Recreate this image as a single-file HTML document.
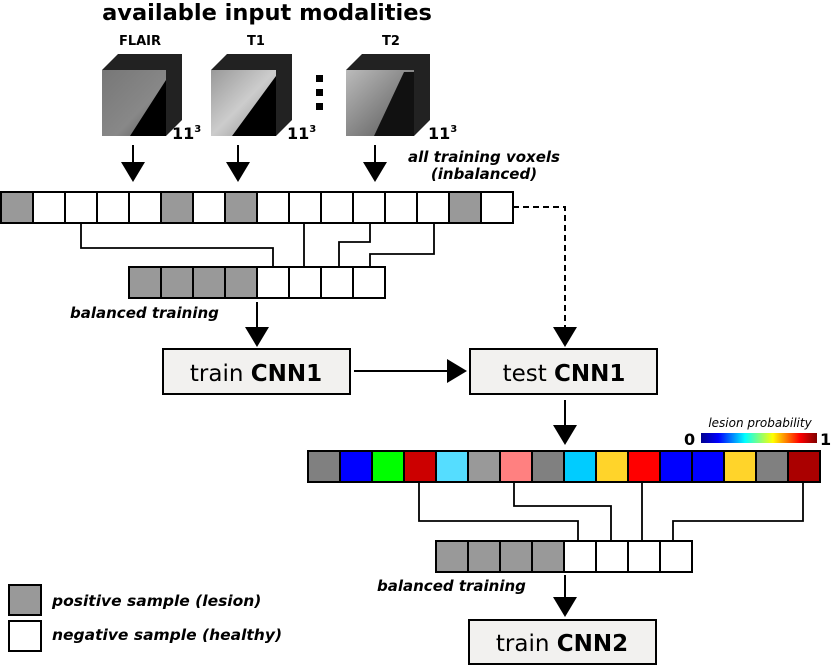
<!DOCTYPE html>
<html><head><meta charset="utf-8"><style>
html,body{margin:0;padding:0;background:#fff;}
svg{display:block;font-family:"DejaVu Sans","Liberation Sans",sans-serif;}
</style></head><body>
<svg width="832" height="666" viewBox="0 0 832 666" xmlns="http://www.w3.org/2000/svg">
<defs>
<linearGradient id="cb" x1="0" x2="1" y1="0" y2="0">
<stop offset="0" stop-color="#00008f"/><stop offset="0.15" stop-color="#0000ff"/>
<stop offset="0.38" stop-color="#00ffff"/><stop offset="0.62" stop-color="#ffff00"/>
<stop offset="0.85" stop-color="#ff0000"/><stop offset="1" stop-color="#800000"/>
</linearGradient>
<linearGradient id="g1" x1="0" y1="0" x2="1" y2="1"><stop offset="0" stop-color="#777"/><stop offset="0.6" stop-color="#888"/><stop offset="1" stop-color="#555"/></linearGradient>
<linearGradient id="g2" x1="0" y1="0" x2="1" y2="1"><stop offset="0" stop-color="#999"/><stop offset="0.5" stop-color="#ccc"/><stop offset="1" stop-color="#888"/></linearGradient>
<linearGradient id="g3" x1="0" y1="0" x2="1" y2="1"><stop offset="0" stop-color="#bbb"/><stop offset="0.5" stop-color="#888"/><stop offset="1" stop-color="#555"/></linearGradient>
</defs>

<text x="267" y="20" text-anchor="middle" font-size="22.5" font-weight="bold">available input modalities</text>
<g font-size="13" font-weight="bold" text-anchor="middle">
<text x="140" y="45">FLAIR</text><text x="256" y="45">T1</text><text x="391" y="45">T2</text>
</g>
<g>
<polygon points="102,70 118,54 182,54 182,120 166,136 102,136" fill="#222"/>
<polygon points="102,70 166,70 166,136 102,136" fill="url(#g1)"/>
<polygon points="130,136 166,80 166,136" fill="#000"/>
<polygon points="211,70 227,54 292,54 292,120 276,136 211,136" fill="#222"/>
<polygon points="211,70 276,70 276,136 211,136" fill="url(#g2)"/>
<polygon points="232,136 276,76 276,136" fill="#000"/>
<polygon points="346,70 362,54 430,54 430,120 414,136 346,136" fill="#222"/>
<polygon points="346,70 414,70 414,136 346,136" fill="url(#g3)"/>
<polygon points="374,136 404,72 414,72 414,136" fill="#111"/>
</g>
<g font-size="16" font-weight="bold">
<text x="172" y="139">11<tspan font-size="10" dy="-7">3</tspan></text>
<text x="287" y="139">11<tspan font-size="10" dy="-7">3</tspan></text>
<text x="428" y="139">11<tspan font-size="10" dy="-7">3</tspan></text>
</g>
<rect x="316" y="75" width="7" height="7"/><rect x="316" y="89" width="7" height="7"/><rect x="316" y="103" width="7" height="7"/>

<g stroke="#000" stroke-width="2">
<line x1="133" y1="145" x2="133" y2="165"/><line x1="238" y1="145" x2="238" y2="165"/><line x1="375" y1="145" x2="375" y2="165"/>
</g>
<polygon points="121,162 145,162 133,182"/><polygon points="226,162 250,162 238,182"/><polygon points="363,162 387,162 375,182"/>
<g font-size="15" font-weight="bold" font-style="italic" text-anchor="middle">
<text x="484" y="162">all training voxels</text><text x="484" y="179">(inbalanced)</text>
</g>

<g stroke="#000" stroke-width="2">
<rect x="1" y="192" width="32" height="31" fill="#999"/>
<rect x="33" y="192" width="32" height="31" fill="#fff"/>
<rect x="65" y="192" width="32" height="31" fill="#fff"/>
<rect x="97" y="192" width="32" height="31" fill="#fff"/>
<rect x="129" y="192" width="32" height="31" fill="#fff"/>
<rect x="161" y="192" width="32" height="31" fill="#999"/>
<rect x="193" y="192" width="32" height="31" fill="#fff"/>
<rect x="225" y="192" width="32" height="31" fill="#999"/>
<rect x="257" y="192" width="32" height="31" fill="#fff"/>
<rect x="289" y="192" width="32" height="31" fill="#fff"/>
<rect x="321" y="192" width="32" height="31" fill="#fff"/>
<rect x="353" y="192" width="32" height="31" fill="#fff"/>
<rect x="385" y="192" width="32" height="31" fill="#fff"/>
<rect x="417" y="192" width="32" height="31" fill="#fff"/>
<rect x="449" y="192" width="32" height="31" fill="#999"/>
<rect x="481" y="192" width="32" height="31" fill="#fff"/>
</g>
<g fill="none" stroke="#000" stroke-width="1.8">
<polyline points="81,223 81,248 273,248 273,267"/>
<polyline points="304,223 304,267"/>
<polyline points="370,223 370,242 339,242 339,267"/>
<polyline points="434,223 434,254 370,254 370,267"/>
</g>
<g stroke="#000" stroke-width="2">
<rect x="129" y="267" width="32" height="31" fill="#999"/>
<rect x="161" y="267" width="32" height="31" fill="#999"/>
<rect x="193" y="267" width="32" height="31" fill="#999"/>
<rect x="225" y="267" width="32" height="31" fill="#999"/>
<rect x="257" y="267" width="32" height="31" fill="#fff"/>
<rect x="289" y="267" width="32" height="31" fill="#fff"/>
<rect x="321" y="267" width="32" height="31" fill="#fff"/>
<rect x="353" y="267" width="32" height="31" fill="#fff"/>
</g>
<text x="70" y="318" font-size="15" font-weight="bold" font-style="italic">balanced training</text>
<line x1="257" y1="302" x2="257" y2="330" stroke="#000" stroke-width="2"/>
<polygon points="245,327 269,327 257,347"/>
<polyline points="513,207 565,207 565,330" fill="none" stroke="#000" stroke-width="2" stroke-dasharray="6,4"/>
<polygon points="553,327 577,327 565,347"/>

<g stroke="#000" stroke-width="2" fill="#f2f1ef">
<rect x="163" y="349" width="187" height="45"/>
<rect x="470" y="349" width="187" height="45"/>
<rect x="469" y="620" width="187" height="44"/>
</g>
<g font-size="23" text-anchor="middle">
<text x="256" y="381">train <tspan font-weight="bold">CNN1</tspan></text>
<text x="564" y="381">test <tspan font-weight="bold">CNN1</tspan></text>
<text x="562" y="651">train <tspan font-weight="bold">CNN2</tspan></text>
</g>
<line x1="354" y1="371" x2="450" y2="371" stroke="#000" stroke-width="2"/>
<polygon points="447,359 467,371 447,383"/>
<line x1="565" y1="400" x2="565" y2="428" stroke="#000" stroke-width="2"/>
<polygon points="553,425 577,425 565,445"/>

<text x="760" y="427" font-size="12" font-style="italic" text-anchor="middle">lesion probability</text>
<rect x="701" y="433" width="116" height="10" fill="url(#cb)"/>
<text x="684" y="445" font-size="16" font-weight="bold">0</text>
<text x="820" y="445" font-size="16" font-weight="bold">1</text>

<g stroke="#000" stroke-width="2">
<rect x="308" y="451" width="32" height="31" fill="#808080"/>
<rect x="340" y="451" width="32" height="31" fill="#0000ff"/>
<rect x="372" y="451" width="32" height="31" fill="#00ff00"/>
<rect x="404" y="451" width="32" height="31" fill="#cc0000"/>
<rect x="436" y="451" width="32" height="31" fill="#55ddff"/>
<rect x="468" y="451" width="32" height="31" fill="#999999"/>
<rect x="500" y="451" width="32" height="31" fill="#ff8080"/>
<rect x="532" y="451" width="32" height="31" fill="#808080"/>
<rect x="564" y="451" width="32" height="31" fill="#00ccff"/>
<rect x="596" y="451" width="32" height="31" fill="#ffd42a"/>
<rect x="628" y="451" width="32" height="31" fill="#ff0000"/>
<rect x="660" y="451" width="32" height="31" fill="#0000ff"/>
<rect x="692" y="451" width="32" height="31" fill="#0000ff"/>
<rect x="724" y="451" width="32" height="31" fill="#ffd42a"/>
<rect x="756" y="451" width="32" height="31" fill="#808080"/>
<rect x="788" y="451" width="32" height="31" fill="#aa0000"/>
</g>
<g fill="none" stroke="#000" stroke-width="1.8">
<polyline points="419,482 419,521 578,521 578,541"/>
<polyline points="514,482 514,506 611,506 611,541"/>
<polyline points="642,482 642,541"/>
<polyline points="803,482 803,521 673,521 673,541"/>
</g>
<g stroke="#000" stroke-width="2">
<rect x="436" y="541" width="32" height="31" fill="#999"/>
<rect x="468" y="541" width="32" height="31" fill="#999"/>
<rect x="500" y="541" width="32" height="31" fill="#999"/>
<rect x="532" y="541" width="32" height="31" fill="#999"/>
<rect x="564" y="541" width="32" height="31" fill="#fff"/>
<rect x="596" y="541" width="32" height="31" fill="#fff"/>
<rect x="628" y="541" width="32" height="31" fill="#fff"/>
<rect x="660" y="541" width="32" height="31" fill="#fff"/>
</g>
<text x="377" y="591" font-size="15" font-weight="bold" font-style="italic">balanced training</text>
<line x1="565" y1="575" x2="565" y2="600" stroke="#000" stroke-width="2"/>
<polygon points="553,597 577,597 565,617"/>

<rect x="9" y="585" width="32" height="30" fill="#999" stroke="#000" stroke-width="2"/>
<rect x="9" y="621" width="32" height="30" fill="#fff" stroke="#000" stroke-width="2"/>
<g font-size="15.5" font-weight="bold" font-style="italic">
<text x="52" y="606">positive sample (lesion)</text>
<text x="52" y="640">negative sample (healthy)</text>
</g>
</svg>
</body></html>
